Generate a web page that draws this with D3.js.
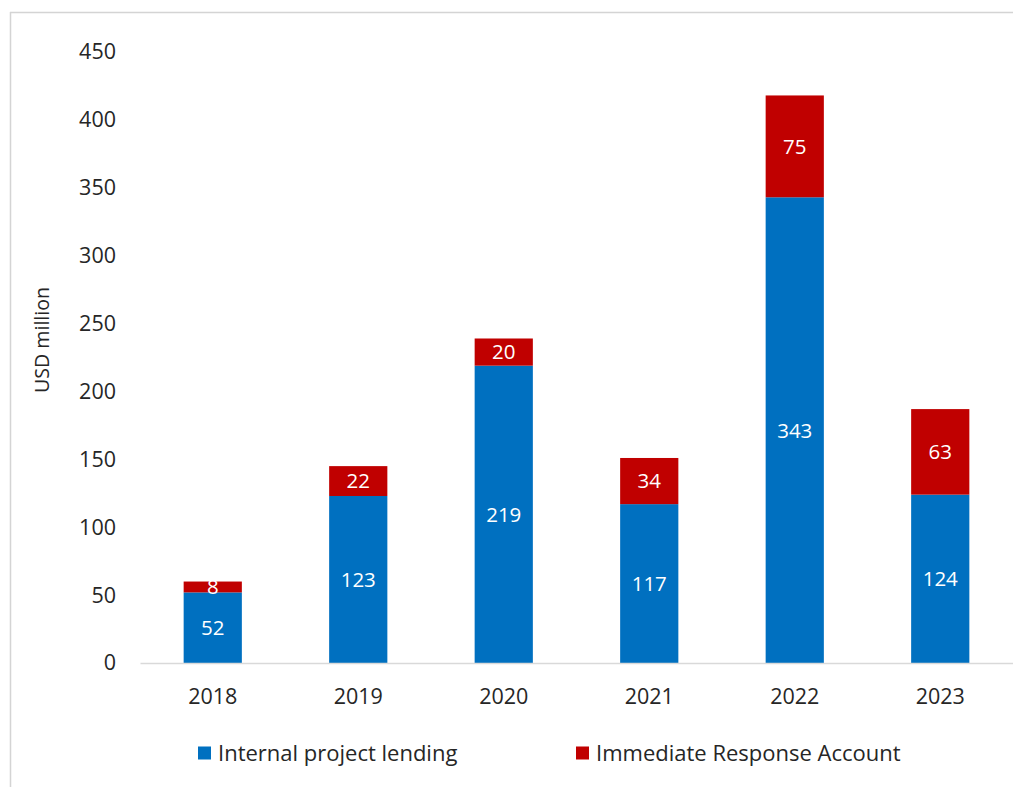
<!DOCTYPE html>
<html>
<head>
<meta charset="utf-8">
<script src="https://cdn.jsdelivr.net/npm/d3@7"></script>
<style>
  html, body { margin: 0; padding: 0; background: #fff; }
  svg { display: block; font-family: "Open Sans", "Noto Sans", sans-serif; }
</style>
</head>
<body>
<svg id="chart" width="1013" height="787"></svg>
<script>
// Funding by year, USD million
const years = ["2018", "2019", "2020", "2021", "2022", "2023"];
const internalLending = [52, 123, 219, 117, 343, 124];
const immediateResponse = [8, 22, 20, 34, 75, 63];
const yTicks = [0, 50, 100, 150, 200, 250, 300, 350, 400, 450];
const seriesNames = ["Internal project lending", "Immediate Response Account"];
const seriesColors = ["#0070C0", "#C00000"];

const svg = d3.select("#chart");

// outer frame (top and left edges only)
svg.append("line").attr("x1", 10).attr("x2", 1013).attr("y1", 12.5).attr("y2", 12.5)
  .attr("stroke", "#d4d4d4").attr("stroke-width", 1.5);
svg.append("line").attr("x1", 10.5).attr("x2", 10.5).attr("y1", 12).attr("y2", 787)
  .attr("stroke", "#d4d4d4").attr("stroke-width", 1.5);

const x = d3.scaleBand().domain(years).range([140, 1013]).paddingInner(0.6).paddingOuter(0.3);
const y = d3.scaleLinear().domain([0, 450]).range([663, 52]);

const rows = years.map((yr, i) => ({ year: yr, a: internalLending[i], b: immediateResponse[i] }));
const stack = d3.stack().keys(["a", "b"])(rows);

// y axis labels
const yAxis = d3.axisLeft(y).tickValues(yTicks).tickSize(0).tickPadding(0);
const gy = svg.append("g").attr("transform", "translate(116,0)").call(yAxis);
gy.select(".domain").remove();
gy.selectAll("text").attr("font-size", 21.5).attr("fill", "#262626")
  .attr("font-family", "'Open Sans', sans-serif");

// y axis title
svg.append("text")
  .attr("transform", "translate(49,340) rotate(-90)")
  .attr("text-anchor", "middle")
  .attr("font-size", 20.5).attr("fill", "#262626")
  .attr("textLength", 106).attr("lengthAdjust", "spacingAndGlyphs")
  .text("USD million");

// bars
const layers = svg.append("g").selectAll("g").data(stack).join("g")
  .attr("fill", (d, i) => seriesColors[i]);
layers.selectAll("rect").data(d => d).join("rect")
  .attr("x", d => x(d.data.year))
  .attr("width", x.bandwidth())
  .attr("y", d => y(d[1]))
  .attr("height", d => y(d[0]) - y(d[1]));

// value labels
stack.forEach((layer) => {
  svg.append("g").selectAll("text").data(layer).join("text")
    .attr("x", d => x(d.data.year) + x.bandwidth() / 2)
    .attr("y", d => y((d[0] + d[1]) / 2))
    .attr("dy", "0.36em")
    .attr("text-anchor", "middle")
    .attr("font-size", 20.5)
    .attr("fill", "#ffffff")
    .text(d => d[1] - d[0]);
});

// x axis
const xAxis = d3.axisBottom(x).tickSize(0).tickPadding(0);
const gx = svg.append("g").attr("transform", "translate(0,663)").call(xAxis);
gx.select(".domain").attr("stroke", "#d9d9d9").attr("stroke-width", 1.5);
gx.selectAll("text").attr("font-size", 21.5).attr("fill", "#262626")
  .attr("y", 41).attr("dy", "0").attr("font-family", "'Open Sans', sans-serif");

// legend
const legendX = [198, 576];
const legend = svg.append("g").selectAll("g").data(seriesNames).join("g")
  .attr("transform", (d, i) => `translate(${legendX[i]},753)`);
legend.append("rect").attr("x", 0).attr("y", -6.5).attr("width", 13).attr("height", 13)
  .attr("fill", (d, i) => seriesColors[i]);
legend.append("text").attr("x", 20).attr("dy", "0.36em")
  .attr("font-size", 22).attr("fill", "#262626")
  .text(d => d);
</script>
</body>
</html>
